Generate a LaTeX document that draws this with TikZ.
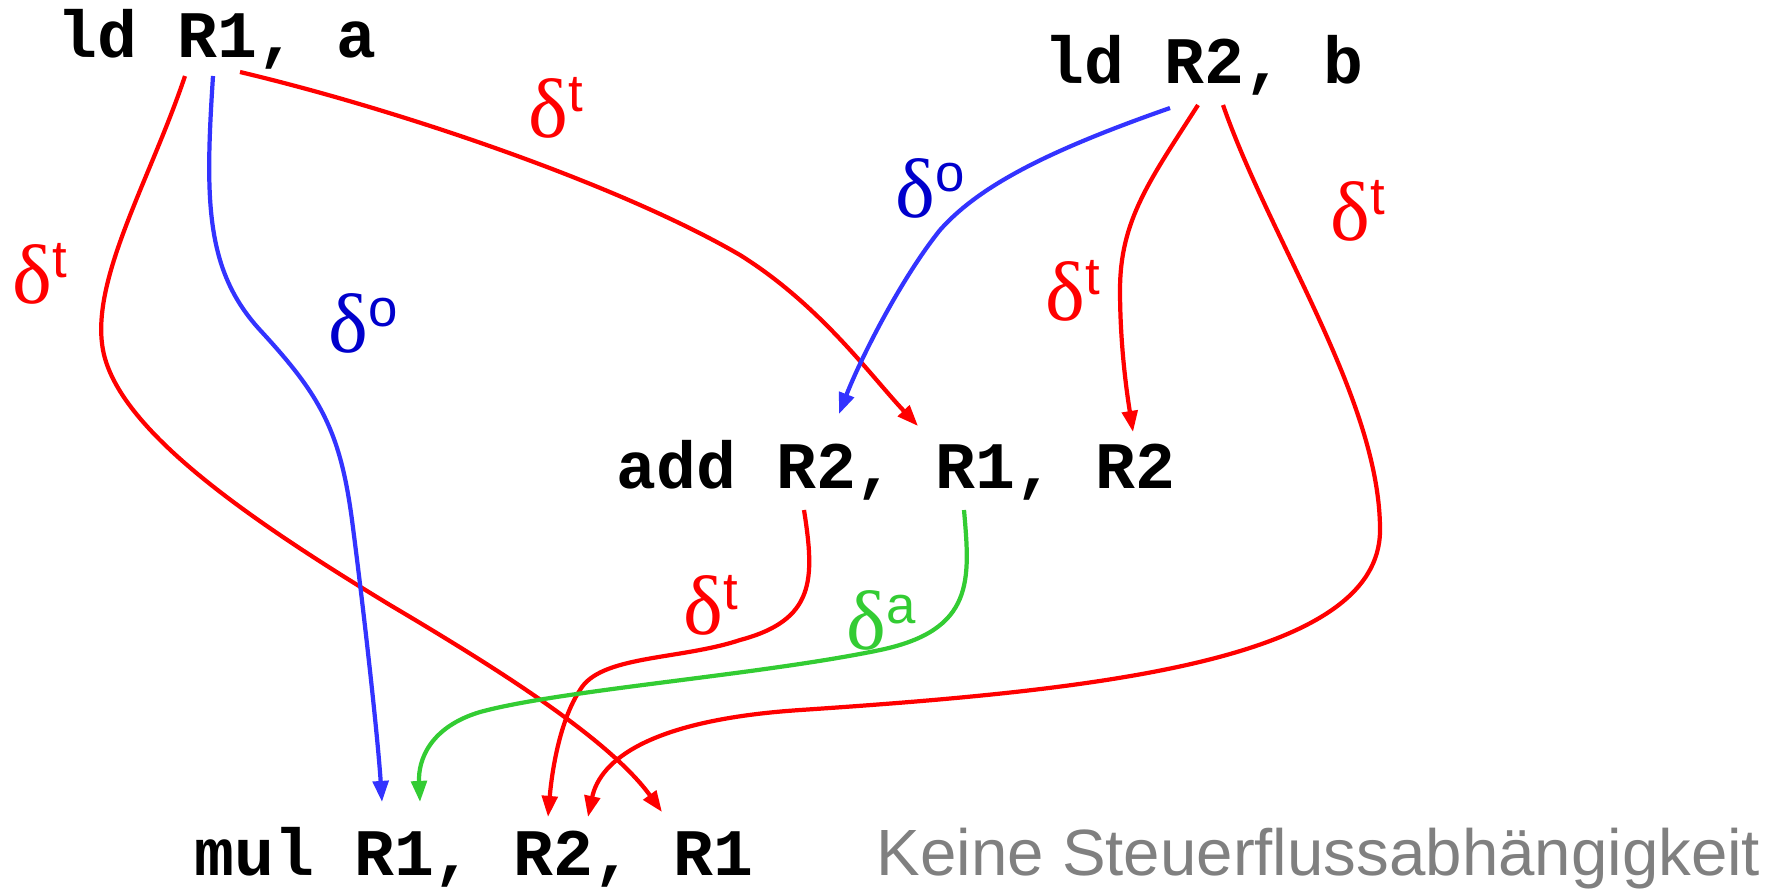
\documentclass[tikz,border=0pt]{standalone}
\usepackage{fontspec}
\setmainfont{Liberation Serif}
\newfontfamily\codefont{Liberation Mono}
\newfontfamily\labsans{Liberation Sans}
\usetikzlibrary{arrows.meta}
\definecolor{dred}{RGB}{255,0,0}
\definecolor{lblue}{RGB}{51,51,255}
\definecolor{dblue}{RGB}{0,0,204}
\definecolor{lgreen}{RGB}{51,204,51}
\definecolor{gtext}{RGB}{128,128,128}
\tikzset{
  code/.style={font=\codefont\bfseries\fontsize{18.9}{20}\selectfont, inner sep=0, anchor=base west},
  dep/.style={line width=1.2pt, -{Triangle[length=6pt,width=4.4pt]}},
  lab/.style={inner sep=0, font=\fontsize{24}{24}\selectfont},
  redd/.style={dep, draw=dred},
  blued/.style={dep, draw=lblue},
  greend/.style={dep, draw=lgreen},
}
\newcommand\dl[1]{δ\raisebox{0.3em}{\labsans\fontsize{15}{15}\selectfont #1}}
\begin{document}
\begin{tikzpicture}[x=0.01cm,y=-0.01cm]
\useasboundingbox (0,0) rectangle (1789,893);
% instructions
\node[code] (ldA) at (57,57) {ld R1, a};
\node[code] (ldB) at (1044,83) {ld R2, b};
\node[code] (add) at (616,488) {add R2, R1, R2};
\node[code] (mul) at (194,875) {mul R1, R2, R1};
\node[inner sep=0, anchor=base west, text=gtext, font=\labsans\fontsize{18.6}{20}\selectfont] (note) at (876,875) {Keine Steuerflussabhängigkeit};
% ports
\coordinate (a1) at (185,76);
\coordinate (a2) at (213,76);
\coordinate (a3) at (240,72);
\coordinate (b1) at (1170,108);
\coordinate (b2) at (1198,105);
\coordinate (b3) at (1223,105);
\coordinate (addR2in) at (839,414);
\coordinate (addR1in) at (918,426);
\coordinate (addR2bin) at (1133,432);
\coordinate (addR2out) at (804,510);
\coordinate (addR1out) at (964,510);
\coordinate (mulR1a) at (382,802);
\coordinate (mulR1b) at (420,802);
\coordinate (mulR2a) at (548,817);
\coordinate (mulR2b) at (588,817);
\coordinate (mulR1c) at (662,812);
% connectors
\draw[redd] (a1) .. controls (150,180) and (90,280) .. (103,350)
  .. controls (118,430) and (250,520) .. (390,605)
  .. controls (500,670) and (610,740) .. (mulR1c);
\draw[blued] (a2) .. controls (205,200) and (205,270) .. (260,330)
  .. controls (320,395) and (340,430) .. (352,520)
  .. controls (365,620) and (378,740) .. (mulR1a);
\draw[redd] (a3) .. controls (400,110) and (620,185) .. (740,255)
  .. controls (820,305) and (870,375) .. (addR1in);
\draw[blued] (b1) .. controls (1050,150) and (980,185) .. (940,230)
  .. controls (900,280) and (860,360) .. (addR2in);
\draw[redd] (b2) .. controls (1150,180) and (1120,220) .. (1120,290)
  .. controls (1120,350) and (1128,400) .. (addR2bin);
\draw[redd] (b3) .. controls (1270,240) and (1380,400) .. (1380,530)
  .. controls (1380,660) and (1100,690) .. (800,710)
  .. controls (650,720) and (600,760) .. (mulR2b);
\draw[redd] (addR2out) .. controls (815,580) and (815,620) .. (740,640)
  .. controls (680,660) and (600,655) .. (580,690)
  .. controls (560,720) and (552,770) .. (mulR2a);
\draw[greend] (addR1out) .. controls (970,580) and (975,630) .. (880,650)
  .. controls (760,675) and (560,690) .. (480,712)
  .. controls (430,727) and (418,760) .. (mulR1b);
% labels
\node[lab, text=dred] (l1) at (40,274) {\dl{t}};
\node[lab, text=dblue] (l2) at (363,323) {\dl{o}};
\node[lab, text=dred] (l3) at (556,108) {\dl{t}};
\node[lab, text=dblue] (l4) at (930,188) {\dl{o}};
\node[lab, text=dred] (l5) at (1073,291) {\dl{t}};
\node[lab, text=dred] (l6) at (1358,211) {\dl{t}};
\node[lab, text=dred] (l7) at (711,605) {\dl{t}};
\node[lab, text=lgreen] (l8) at (881,620) {\dl{a}};
\end{tikzpicture}
\end{document}
